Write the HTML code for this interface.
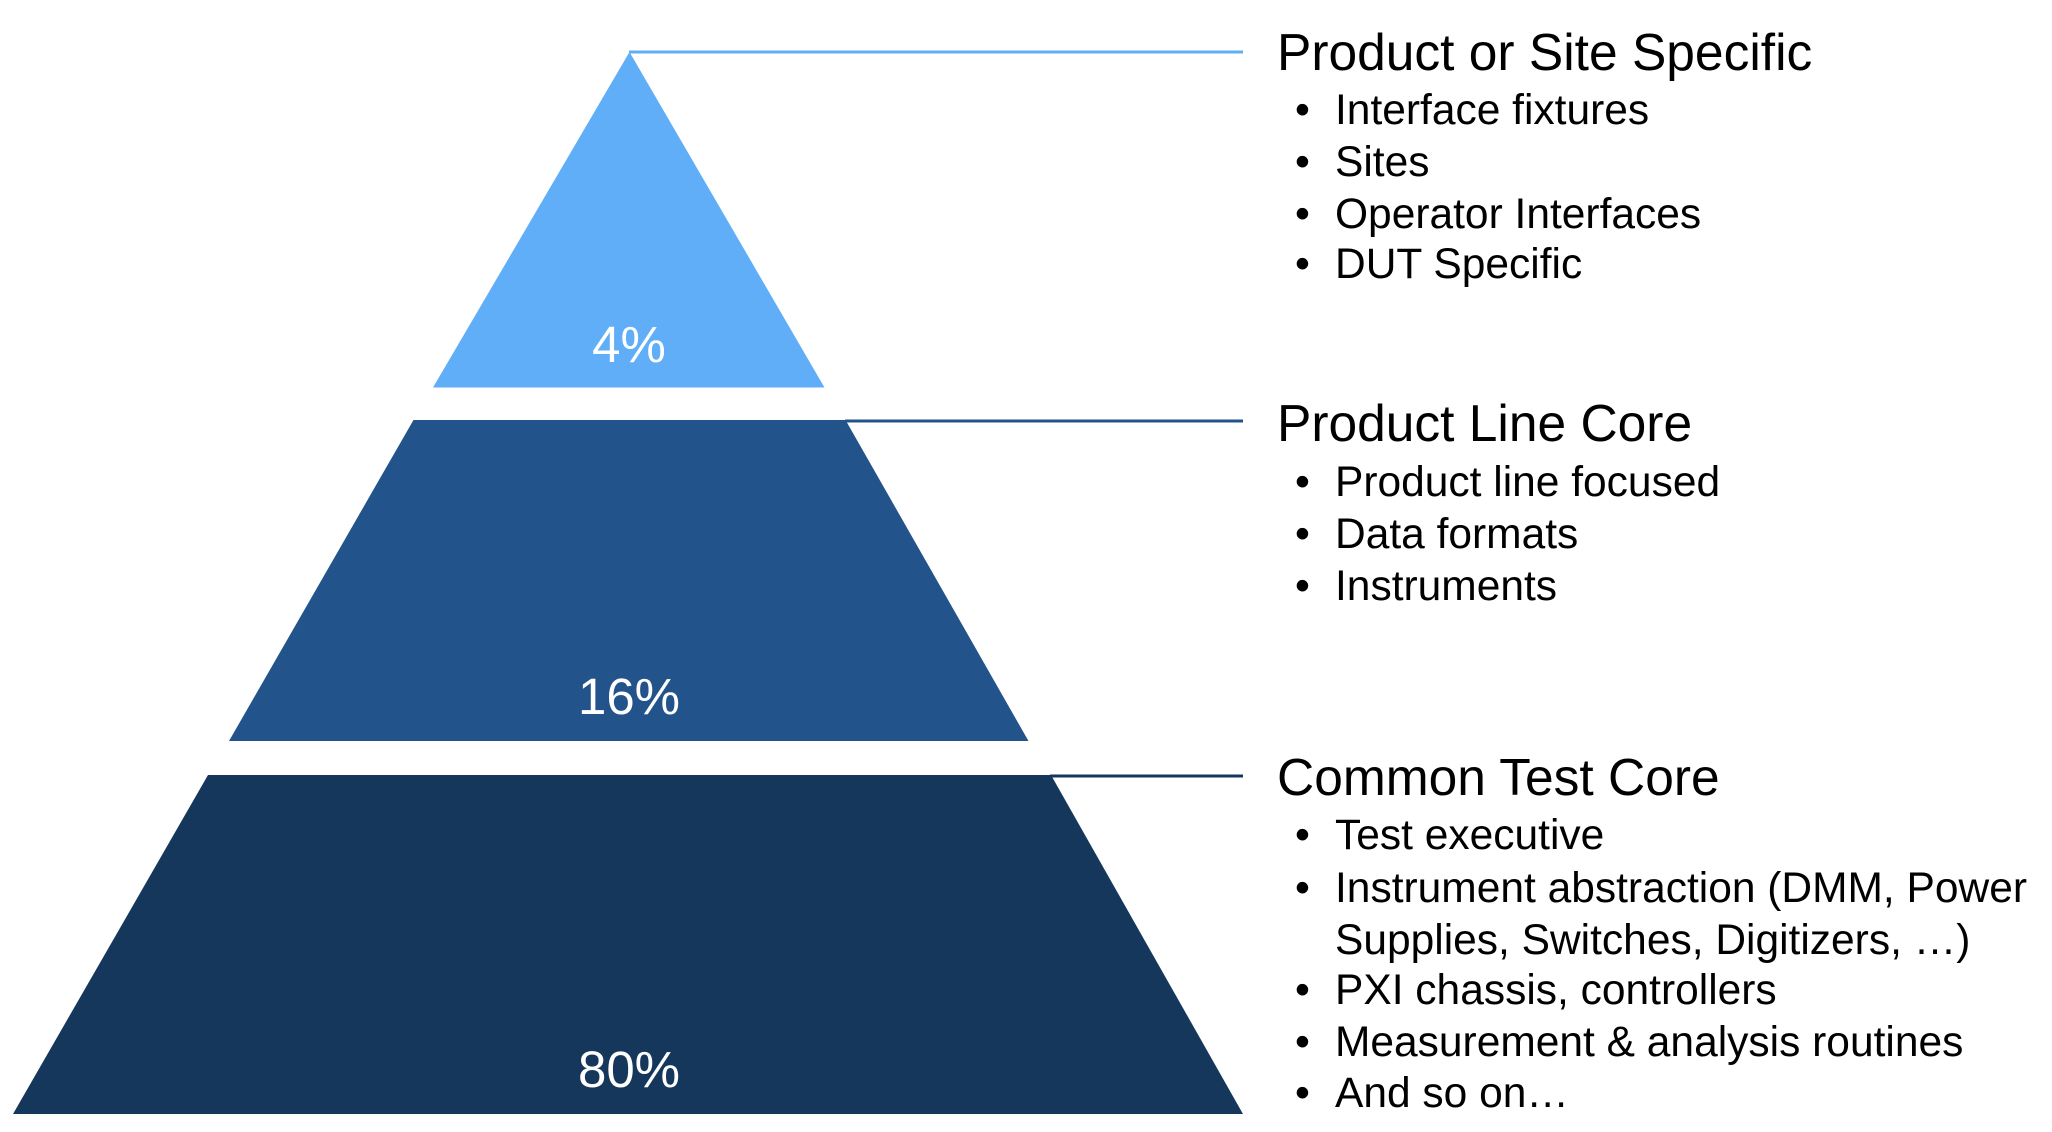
<!DOCTYPE html>
<html><head><meta charset="utf-8"><style>
html,body{margin:0;padding:0;background:#fff;}
svg{display:block;}
text{font-family:"Liberation Sans",Arial,sans-serif;}
</style></head><body>
<svg width="2052" height="1132" viewBox="0 0 2052 1132" xmlns="http://www.w3.org/2000/svg">
<rect width="2052" height="1132" fill="#fff"/>
<polygon points="629.5,52 433,387.5 824.5,387.5" fill="#5faef7"/>
<line x1="629" y1="52" x2="1243" y2="52" stroke="#5faef7" stroke-width="3"/>
<polygon points="413.5,420 845.5,420 1028.5,741 229,741" fill="#22548b"/>
<line x1="845" y1="421" x2="1243" y2="421" stroke="#22548b" stroke-width="3"/>
<polygon points="208,775 1051,775 1243,1114 13,1114" fill="#15375c"/>
<line x1="1050" y1="776" x2="1243" y2="776" stroke="#15375c" stroke-width="3"/>
<g fill="#fff" font-size="51" text-anchor="middle">
<text x="629" y="362">4%</text>
<text x="629" y="714">16%</text>
<text x="629" y="1087">80%</text>
</g>
<g fill="#000">
<text x="1277" y="70" font-size="51.5">Product or Site Specific</text>
<text x="1277" y="441" font-size="51.5">Product Line Core</text>
<text x="1277" y="795" font-size="51.5">Common Test Core</text>
<g font-size="42.5">
<text x="1295" y="124">•</text><text x="1335" y="124">Interface fixtures</text>
<text x="1295" y="176">•</text><text x="1335" y="176">Sites</text>
<text x="1295" y="228">•</text><text x="1335" y="228">Operator Interfaces</text>
<text x="1295" y="278">•</text><text x="1335" y="278">DUT Specific</text>
<text x="1295" y="496">•</text><text x="1335" y="496">Product line focused</text>
<text x="1295" y="548">•</text><text x="1335" y="548">Data formats</text>
<text x="1295" y="600">•</text><text x="1335" y="600">Instruments</text>
<text x="1295" y="849">•</text><text x="1335" y="849">Test executive</text>
<text x="1295" y="902">•</text><text x="1335" y="902">Instrument abstraction (DMM, Power</text>
<text x="1335" y="954">Supplies, Switches, Digitizers, …)</text>
<text x="1295" y="1004">•</text><text x="1335" y="1004">PXI chassis, controllers</text>
<text x="1295" y="1056">•</text><text x="1335" y="1056">Measurement &amp; analysis routines</text>
<text x="1295" y="1107">•</text><text x="1335" y="1107">And so on…</text>
</g>
</g>
</svg>
</body></html>
